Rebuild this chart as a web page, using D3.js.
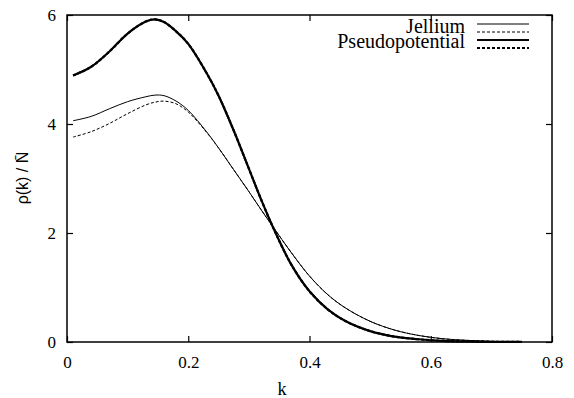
<!DOCTYPE html>
<html>
<head>
<meta charset="utf-8">
<script src="https://cdn.jsdelivr.net/npm/d3@7"></script>
<style>
  body { margin: 0; background: #fff; }
  svg { display: block; }
</style>
</head>
<body>
<script>
"use strict";

// k values (x)
var kVals = [0.01, 0.04, 0.07, 0.10, 0.13, 0.145, 0.16, 0.18, 0.20, 0.23, 0.25, 0.275,
             0.30, 0.32, 0.34, 0.37, 0.40, 0.43, 0.46, 0.50, 0.54, 0.58, 0.62, 0.66, 0.70, 0.75];

var jelliumSolid  = [4.06, 4.14, 4.28, 4.41, 4.50, 4.53, 4.52, 4.42, 4.25, 3.86, 3.56, 3.16,
                     2.76, 2.43, 2.11, 1.64, 1.21, 0.87, 0.62, 0.38, 0.22, 0.12, 0.06, 0.03, 0.012, 0.004];
var jelliumDashed = [3.76, 3.86, 4.01, 4.19, 4.35, 4.40, 4.42, 4.37, 4.22, 3.85, 3.56, 3.16,
                     2.76, 2.43, 2.11, 1.64, 1.21, 0.87, 0.62, 0.38, 0.22, 0.12, 0.06, 0.03, 0.012, 0.004];
var pseudoSolid   = [4.89, 5.05, 5.33, 5.66, 5.88, 5.92, 5.87, 5.70, 5.47, 4.94, 4.52, 3.88,
                     3.18, 2.62, 2.10, 1.42, 0.93, 0.60, 0.38, 0.20, 0.10, 0.05, 0.02, 0.01, 0.004, 0.001];
var pseudoDashed  = [4.89, 5.05, 5.33, 5.66, 5.88, 5.92, 5.87, 5.70, 5.47, 4.94, 4.52, 3.88,
                     3.18, 2.62, 2.10, 1.42, 0.93, 0.60, 0.38, 0.20, 0.10, 0.05, 0.02, 0.01, 0.004, 0.001];

var xTicks = [0, 0.2, 0.4, 0.6, 0.8];
var yTicks = [0, 2, 4, 6];

var width = 574, height = 398;
var margin = {left: 67, right: 22, top: 15, bottom: 56};
var serif = "'Liberation Serif', 'Times New Roman', serif";

var svg = d3.select("body").append("svg")
    .attr("width", width)
    .attr("height", height);

var x = d3.scaleLinear().domain([0, 0.8]).range([margin.left, width - margin.right]);
var y = d3.scaleLinear().domain([0, 6]).range([height - margin.bottom, margin.top]);

var plotW = width - margin.left - margin.right,
    plotH = height - margin.top - margin.bottom;

function axisStyle(g){
  g.select(".domain").remove();
  g.attr("font-family", serif).attr("font-size", 17);
  g.selectAll(".tick text").style("font-family", serif).attr("fill", "#000");
  g.selectAll(".tick line").attr("stroke", "#000").attr("stroke-width", 1.2);
}

// axes, gnuplot style: ticks inward on all sides
svg.append("g")
    .attr("transform", "translate(0," + y(0) + ")")
    .call(d3.axisBottom(x).tickValues(xTicks).tickSizeInner(-6).tickSizeOuter(0).tickPadding(14)
        .tickFormat(function(d){ return d === 0 ? "0" : d3.format(".1f")(d); }))
    .call(axisStyle);

svg.append("g")
    .attr("transform", "translate(0," + y(6) + ")")
    .call(d3.axisTop(x).tickValues(xTicks).tickSizeInner(-6).tickSizeOuter(0).tickFormat(""))
    .call(axisStyle);

svg.append("g")
    .attr("transform", "translate(" + x(0) + ",0)")
    .call(d3.axisLeft(y).tickValues(yTicks).tickSizeInner(-6).tickSizeOuter(0).tickPadding(11)
        .tickFormat(d3.format("d")))
    .call(axisStyle);

svg.append("g")
    .attr("transform", "translate(" + x(0.8) + ",0)")
    .call(d3.axisRight(y).tickValues(yTicks).tickSizeInner(-6).tickSizeOuter(0).tickFormat(""))
    .call(axisStyle);

svg.append("rect")
    .attr("x", margin.left)
    .attr("y", margin.top)
    .attr("width", plotW)
    .attr("height", plotH)
    .attr("fill", "none")
    .attr("stroke", "#000")
    .attr("stroke-width", 1.5);

var series = [
  {name: "Jellium",        values: jelliumSolid,  width: 1,   dash: null},
  {name: "",               values: jelliumDashed, width: 1,   dash: "3,2"},
  {name: "Pseudopotential", values: pseudoSolid,  width: 2.2, dash: null},
  {name: "",               values: pseudoDashed,  width: 2.2, dash: "3,2"}
];

var line = d3.line()
    .x(function(d){ return x(d[0]); })
    .y(function(d){ return y(d[1]); })
    .curve(d3.curveCatmullRom.alpha(0.5));

svg.append("g").selectAll("path")
    .data(series)
    .enter().append("path")
    .attr("d", function(s){ return line(kVals.map(function(k, i){ return [k, s.values[i]]; })); })
    .attr("fill", "none")
    .attr("stroke", "#000")
    .attr("stroke-width", function(s){ return s.width; })
    .attr("stroke-dasharray", function(s){ return s.dash; });

// legend
var legend = svg.append("g");
var legendY = [24, 32, 40, 48];
series.forEach(function(s, i){
  legend.append("line")
      .attr("x1", 477).attr("x2", 529)
      .attr("y1", legendY[i]).attr("y2", legendY[i])
      .attr("stroke", "#000")
      .attr("stroke-width", s.width)
      .attr("stroke-dasharray", s.dash);
});
legend.append("text")
    .attr("x", 465).attr("y", 33)
    .attr("text-anchor", "end")
    .style("font-family", serif)
    .attr("font-size", 20)
    .text("Jellium");
legend.append("text")
    .attr("x", 465).attr("y", 48)
    .attr("text-anchor", "end")
    .style("font-family", serif)
    .attr("font-size", 20)
    .text("Pseudopotential");

// axis labels
svg.append("text")
    .attr("x", 282).attr("y", 395)
    .attr("text-anchor", "middle")
    .style("font-family", serif)
    .attr("font-size", 18)
    .text("k");

svg.append("text")
    .attr("transform", "translate(28,178) rotate(-90)")
    .attr("text-anchor", "middle")
    .attr("font-family", "Liberation Sans, Arial, sans-serif")
    .attr("font-size", 16)
    .text("\u03c1(k) / N\u0304");
</script>
</body>
</html>
